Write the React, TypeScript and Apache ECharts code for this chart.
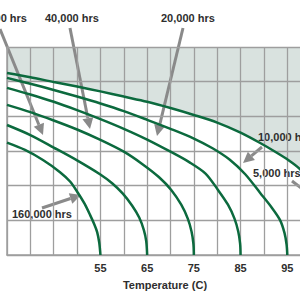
import { useEffect, useRef } from "react";
import * as echarts from "echarts";

// Lifetime curves: [temperature (C), relative value]
const curve160k: [number, number][] = [[35, 3.24], [38.85, 3.03], [42.7, 2.74], [46.35, 2.39], [48.5, 2.12], [50.2, 1.79], [51.6, 1.48], [52.8, 1.15], [53.7, 0.88], [54.3, 0.66], [54.75, 0.35], [55, 0]];
const curve80k: [number, number][] = [[35, 3.75], [40, 3.46], [45, 3.1], [50, 2.73], [54.9, 2.33], [57.5, 2.07], [59.8, 1.77], [61.8, 1.42], [63.3, 1.08], [64.3, 0.72], [64.8, 0.4], [65, 0]];
const curve40k: [number, number][] = [[35, 4.33], [40, 4.12], [45, 3.88], [50, 3.62], [55, 3.32], [60, 2.98], [64, 2.62], [67.5, 2.25], [70.2, 1.87], [72.3, 1.45], [73.7, 1.05], [74.5, 0.68], [74.9, 0.33], [75, 0]];
const curve20k: [number, number][] = [[35, 4.82], [40, 4.63], [45, 4.42], [50, 4.18], [55, 3.92], [60, 3.64], [65, 3.33], [70, 2.98], [74, 2.68], [77.5, 2.35], [80.2, 1.87], [82.3, 1.45], [83.7, 1.05], [84.5, 0.68], [84.9, 0.33], [85, 0]];
const curve10k: [number, number][] = [[35, 5.11], [40, 4.94], [45, 4.76], [50, 4.57], [55, 4.37], [60, 4.15], [65, 3.9], [70, 3.64], [75, 3.36], [79, 3.08], [82.7, 2.75], [86, 2.33], [89.2, 1.79], [91.5, 1.4], [93.4, 1.02], [94.4, 0.64], [94.85, 0.3], [95, 0]];
const curve5k: [number, number][] = [[35, 5.25], [40, 5.13], [45, 4.99], [50, 4.86], [55, 4.72], [60, 4.57], [65, 4.42], [70, 4.24], [75, 4.04], [80, 3.82], [85, 3.53], [89.2, 3.23], [92.5, 2.97], [95.2, 2.74], [97.7, 2.48], [100, 2.12], [101.8, 1.76], [103.2, 1.35], [104.2, 0.95], [104.7, 0.55], [104.95, 0.25], [105, 0]];

const curves = [curve160k, curve80k, curve40k, curve20k, curve10k, curve5k];
const tickLabels = [55, 65, 75, 85, 95];

const GREEN = "#0c6a3e";
const SHADE = "#d9e2df";
const GRIDC = "#9e9e9e";
const ARROW = "#8a8a8a";
const TEXT = "#2e2e2e";
const FONT = '"Liberation Sans", Arial, sans-serif';

function arrow(x1: number, y1: number, x2: number, y2: number) {
  const dx = x2 - x1, dy = y2 - y1;
  const len = Math.hypot(dx, dy);
  const ux = dx / len, uy = dy / len;
  const hl = 11, hw = 5.5;
  const bx = x2 - ux * hl, by = y2 - uy * hl;
  return [
    { type: "line", silent: true, shape: { x1, y1, x2: bx, y2: by }, style: { stroke: ARROW, lineWidth: 3 } },
    {
      type: "polygon",
      silent: true,
      shape: { points: [[x2, y2], [bx - uy * hw, by + ux * hw], [bx + uy * hw, by - ux * hw]] },
      style: { fill: ARROW },
    },
  ];
}

function label(text: string, x: number, y: number, align: string = "left") {
  return {
    type: "text",
    silent: true,
    x,
    y,
    style: { text, fill: TEXT, fontSize: 11, fontWeight: "bold", fontFamily: FONT, align, verticalAlign: "middle" },
  };
}

export default function App() {
  const ref = useRef<HTMLDivElement>(null);
  useEffect(() => {
    if (!ref.current) return;
    const chart = echarts.init(ref.current, null, { renderer: "svg" });
    const smooth = 0.3;
    const series: any[] = [
      {
        type: "line",
        data: curve5k,
        smooth,
        showSymbol: false,
        lineStyle: { width: 0 },
        areaStyle: { color: SHADE, opacity: 1, origin: "end" },
        z: -1,
        silent: true,
        markArea: {
          silent: true,
          z: -1,
          itemStyle: { color: SHADE },
          data: [[{ yAxis: 5 }, { yAxis: 6 }]],
        },
      },
      ...curves.map((c) => ({
        type: "line",
        data: c,
        smooth,
        showSymbol: false,
        silent: true,
        lineStyle: { color: GREEN, width: 2.5 },
      })),
    ];
    chart.setOption({
      animation: false,
      grid: { left: 7, top: 47, bottom: 45, width: 327 },
      xAxis: {
        type: "value",
        min: 35,
        max: 105,
        interval: 5,
        axisLine: { show: true, lineStyle: { color: GRIDC, width: 1.5 } },
        axisTick: { show: false },
        splitLine: { show: true, lineStyle: { color: GRIDC, width: 1.3 } },
        axisLabel: {
          margin: 7,
          fontSize: 11,
          fontWeight: "bold",
          color: TEXT,
          fontFamily: FONT,
          formatter: (v: number) => (tickLabels.includes(v) ? String(v) : ""),
        },
      },
      yAxis: {
        type: "value",
        min: 0,
        max: 6,
        interval: 1,
        axisLine: { show: true, lineStyle: { color: GRIDC, width: 1.5 } },
        axisTick: { show: false },
        axisLabel: { show: false },
        splitLine: { show: true, lineStyle: { color: GRIDC, width: 1.3 } },
      },
      series,
      graphic: [
        label("Temperature (C)", 165, 285, "center"),
        label("80,000 hrs", 27, 18, "right"),
        label("40,000 hrs", 45, 18),
        label("20,000 hrs", 161, 18),
        label("10,000 hrs", 258, 137),
        label("5,000 hrs", 253, 173),
        label("160,000 hrs", 12, 214),
        ...arrow(0, 29, 43, 135),
        ...arrow(70, 28, 90, 129),
        ...arrow(183, 28, 157, 136),
        ...arrow(262, 147, 243, 163),
        ...arrow(292, 181, 314, 198),
        ...arrow(42, 208, 81, 195),
      ],
    });
    return () => chart.dispose();
  }, []);
  return (
    <div style={{ position: "absolute", left: 0, top: 0, width: 300, height: 300, overflow: "hidden" }}>
      <div ref={ref} style={{ width: 345, height: 300 }} />
    </div>
  );
}
